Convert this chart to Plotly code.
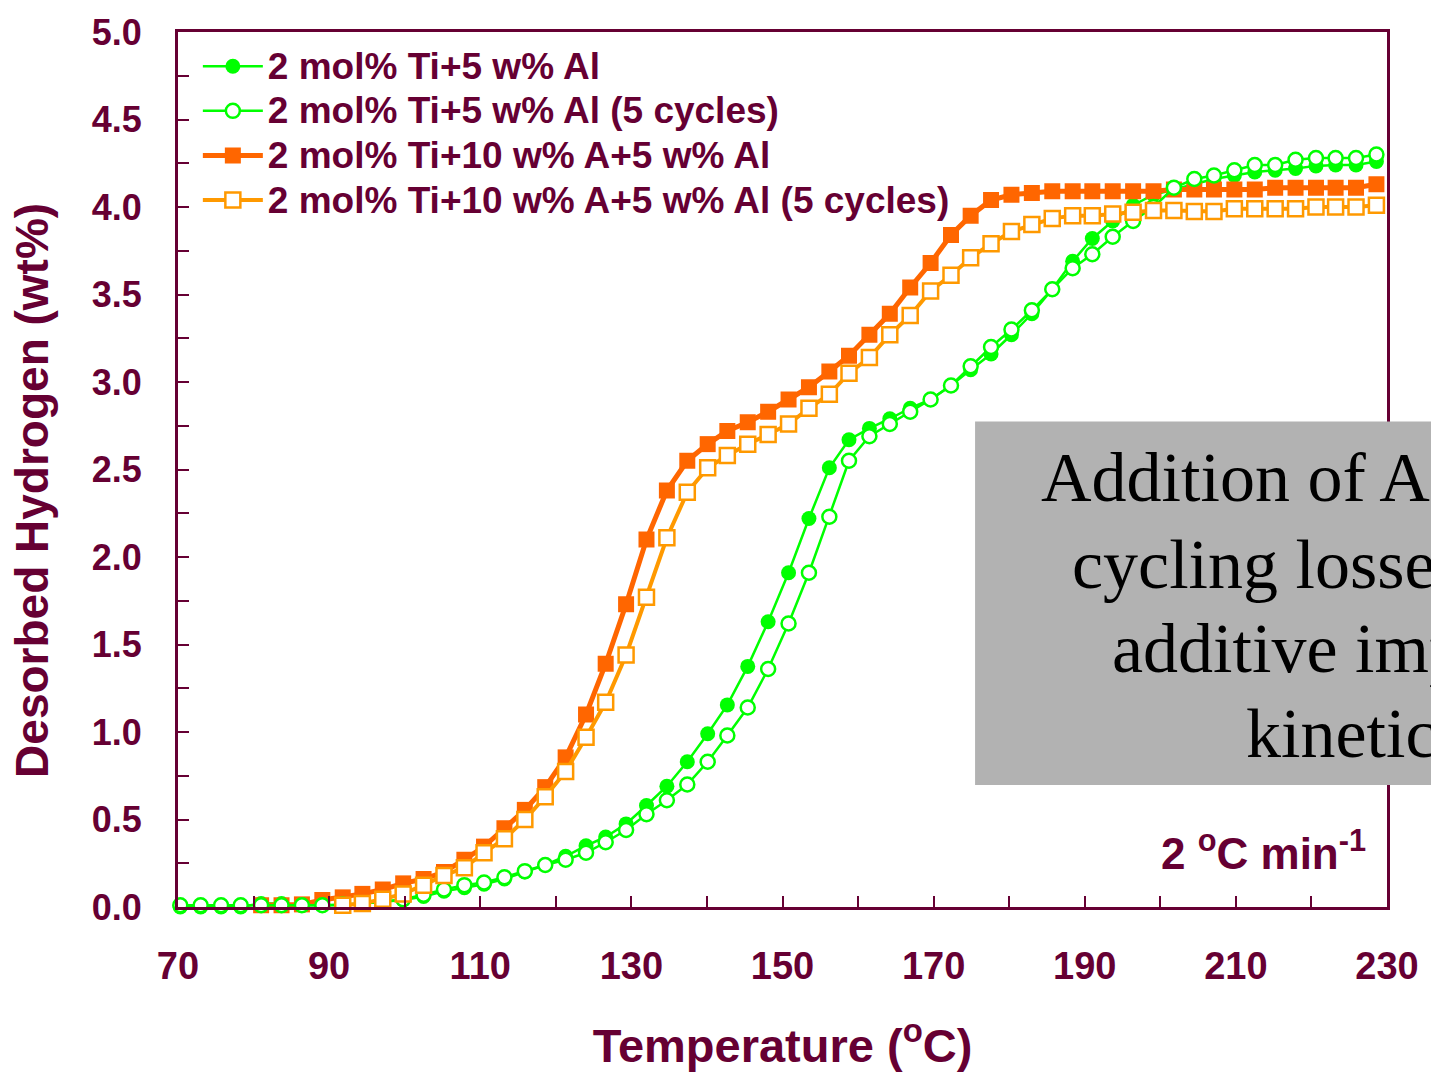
import plotly.graph_objects as go

# ---------------- data ----------------
temps = [70.3, 73.0, 75.7, 78.3, 81.0, 83.7, 86.4, 89.1, 91.8, 94.4,
         97.1, 99.8, 102.5, 105.2, 107.9, 110.5, 113.2, 115.9, 118.6, 121.3,
         124.0, 126.6, 129.3, 132.0, 134.7, 137.4, 140.1, 142.7, 145.4, 148.1,
         150.8, 153.5, 156.2, 158.8, 161.5, 164.2, 166.9, 169.6, 172.3, 174.9,
         177.6, 180.3, 183.0, 185.7, 188.4, 191.0, 193.7, 196.4, 199.1, 201.8,
         204.5, 207.1, 209.8, 212.5, 215.2, 217.9, 220.6, 223.2, 225.9, 228.6]

ti_al = [0.0, 0.0, 0.0, 0.0, 0.02, 0.02, 0.01, 0.01, 0.01, 0.02,
         0.03, 0.04, 0.06, 0.09, 0.11, 0.13, 0.16, 0.20, 0.24, 0.29,
         0.35, 0.40, 0.475, 0.58, 0.69, 0.83, 0.99, 1.155, 1.375, 1.63,
         1.91, 2.22, 2.51, 2.67, 2.735, 2.79, 2.85, 2.90, 2.98, 3.07,
         3.16, 3.27, 3.39, 3.53, 3.69, 3.82, 3.92, 4.01, 4.07, 4.10,
         4.13, 4.16, 4.18, 4.20, 4.21, 4.22, 4.235, 4.24, 4.24, 4.26]

ti_al_5c = [0.01, 0.01, 0.01, 0.01, 0.01, 0.01, 0.01, 0.01, 0.015, 0.02,
            0.03, 0.045, 0.07, 0.10, 0.125, 0.14, 0.17, 0.205, 0.24, 0.27,
            0.31, 0.37, 0.44, 0.53, 0.61, 0.70, 0.83, 0.98, 1.14, 1.36,
            1.62, 1.91, 2.23, 2.55, 2.69, 2.76, 2.83, 2.90, 2.98, 3.09,
            3.20, 3.30, 3.41, 3.53, 3.65, 3.73, 3.83, 3.92, 4.00, 4.11,
            4.16, 4.18, 4.21, 4.24, 4.24, 4.27, 4.28, 4.28, 4.28, 4.30]

ti_a_al = [None, None, None, None, 0.01, 0.01, 0.015, 0.04, 0.055, 0.075,
           0.10, 0.135, 0.16, 0.20, 0.27, 0.345, 0.45, 0.555, 0.685, 0.855,
           1.10, 1.39, 1.73, 2.10, 2.38, 2.55, 2.645, 2.72, 2.77, 2.83,
           2.90, 2.97, 3.06, 3.15, 3.27, 3.39, 3.54, 3.68, 3.84, 3.95,
           4.04, 4.07, 4.08, 4.09, 4.09, 4.09, 4.09, 4.09, 4.09, 4.10,
           4.10, 4.10, 4.10, 4.10, 4.11, 4.11, 4.11, 4.11, 4.11, 4.13]

ti_a_al_5c = [None, None, None, None, None, None, None, None, 0.01, 0.02,
              0.045, 0.075, 0.125, 0.18, 0.225, 0.31, 0.39, 0.50, 0.63, 0.775,
              0.97, 1.17, 1.44, 1.77, 2.11, 2.37, 2.51, 2.58, 2.645, 2.70,
              2.76, 2.85, 2.93, 3.05, 3.14, 3.27, 3.38, 3.52, 3.61, 3.71,
              3.79, 3.86, 3.90, 3.935, 3.95, 3.95, 3.96, 3.97, 3.98, 3.98,
              3.975, 3.975, 3.99, 3.99, 3.99, 3.99, 4.00, 4.00, 4.00, 4.01]

names = ["2 mol% Ti+5 w% Al",
         "2 mol% Ti+5 w% Al (5 cycles)",
         "2 mol% Ti+10 w% A+5 w% Al",
         "2 mol% Ti+10 w% A+5 w% Al (5 cycles)"]

note_lines = ["Addition of Al reduces",
              "cycling losses, while",
              "additive improves",
              "kinetics"]

# ---------------- style ----------------
MAROON = "#660033"
GREEN = "#00ff00"
ORANGE = "#ff6600"
ORANGE2 = "#ff9900"
FONT = "Arial, Liberation Sans, sans-serif"

L, R, T, B = 178, 1396, 27, 910   # plot area in page pixels
PW, PH = R - L, B - T


def px(xp):
    return (xp - L) / PW


def py(yp):
    return (B - yp) / PH


def legend_label(s):
    # glyphs drawn a little larger than the legend row pitch font
    return '<span style="font-size:37px">' + s + '</span>'


fig = go.Figure()

# draw order: filled green, filled orange, open green, open orange
fig.add_trace(go.Scatter(
    x=temps, y=ti_al, name=legend_label(names[0]), mode="lines+markers",
    legendrank=1,
    line=dict(color=GREEN, width=2.5),
    marker=dict(symbol="circle", size=15, color=GREEN),
    cliponaxis=False))
fig.add_trace(go.Scatter(
    x=temps, y=ti_a_al, name=legend_label(names[2]), mode="lines+markers",
    legendrank=3,
    line=dict(color=ORANGE, width=5),
    marker=dict(symbol="square", size=16, color=ORANGE),
    cliponaxis=False))
fig.add_trace(go.Scatter(
    x=temps, y=ti_al_5c, name=legend_label(names[1]), mode="lines+markers",
    legendrank=2,
    line=dict(color=GREEN, width=2.5),
    marker=dict(symbol="circle", size=14, color="white",
                line=dict(color=GREEN, width=2.5)),
    cliponaxis=False))
fig.add_trace(go.Scatter(
    x=temps, y=ti_a_al_5c, name=legend_label(names[3]), mode="lines+markers",
    legendrank=4,
    line=dict(color=ORANGE2, width=4),
    marker=dict(symbol="square", size=15, color="white",
                line=dict(color=ORANGE2, width=2.5)),
    cliponaxis=False))

axis_common = dict(
    showline=True, linecolor=MAROON, linewidth=3, mirror=True,
    showgrid=False, zeroline=False,
    ticks="inside", ticklen=11, tickwidth=2, tickcolor=MAROON,
)

fig.update_xaxes(
    range=[70, 230], tick0=70, dtick=20,
    minor=dict(tick0=70, dtick=10, ticks="inside", ticklen=11, tickwidth=2,
               tickcolor=MAROON),
    ticklabelstandoff=23,
    tickfont=dict(family=FONT, size=38, color=MAROON, weight="bold"),
    title=dict(text="Temperature (<sup>o</sup>C)", standoff=44,
               font=dict(family=FONT, size=47, color=MAROON, weight="bold")),
    **axis_common)
fig.update_yaxes(
    range=[0, 5], tick0=0, dtick=0.5, tickformat=".1f",
    minor=dict(tick0=0, dtick=0.25, ticks="inside", ticklen=11, tickwidth=2,
               tickcolor=MAROON),
    ticklabelstandoff=26,
    tickfont=dict(family=FONT, size=36, color=MAROON, weight="bold"),
    **axis_common)

# y-axis title (placed as rotated text, centred where the reference has it)
fig.add_annotation(
    text="Desorbed Hydrogen (wt%)", xref="paper", yref="paper",
    x=px(31), y=py(490), xanchor="center", yanchor="middle",
    textangle=-90, showarrow=False,
    font=dict(family=FONT, size=46, color=MAROON, weight="bold"))

# grey note box (extends past the right edge of the page)
fig.add_shape(type="rect", xref="paper", yref="paper",
              x0=px(981), x1=px(1500), y0=py(787), y1=py(420),
              fillcolor="#b2b2b2", line=dict(width=0), layer="above")

line_x = [1045, 1077, 1117, 1252]
line_yc = [477, 564, 649, 735]
for txt, lx, ly in zip(note_lines, line_x, line_yc):
    fig.add_annotation(
        text=txt, xref="paper", yref="paper",
        x=px(lx), y=py(ly),
        xanchor="left", yanchor="middle", showarrow=False,
        font=dict(family="Liberation Serif, Times New Roman, serif",
                  size=70, color="black"))

fig.add_annotation(
    text="2 <sup>o</sup>C min<sup>-1</sup>", xref="paper", yref="paper",
    x=px(1377), y=py(853),
    xanchor="right", yanchor="middle", showarrow=False,
    font=dict(family=FONT, size=44, color=MAROON, weight="bold"))

fig.update_layout(
    width=1431, height=1075,
    margin=dict(l=L, r=1431 - R, t=T, b=1075 - B),
    paper_bgcolor="white", plot_bgcolor="white",
    showlegend=True,
    legend=dict(x=px(198), y=py(34), xanchor="left", yanchor="top",
                bgcolor="rgba(0,0,0,0)", borderwidth=0, itemwidth=60,
                tracegroupgap=0,
                font=dict(family=FONT, size=32, color=MAROON, weight="bold")),
)

fig.write_html(
    "out.html",
    config={"displayModeBar": False},
    post_script="document.body.style.margin='0';"
                "document.body.style.overflow='hidden';")
